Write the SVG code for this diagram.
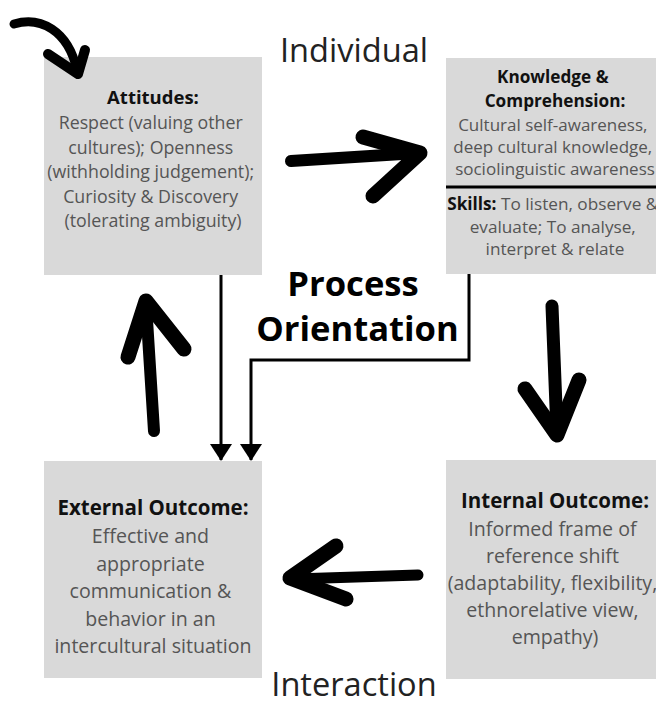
<svg xmlns="http://www.w3.org/2000/svg" width="656" height="702" viewBox="0 0 656 702">
  <style>
    .box { fill: #d9d9d9; }
    .head { font-family: "Open Sans", "Liberation Sans", sans-serif; font-weight: 700; fill: #111; text-anchor: middle; }
    .body { font-family: "Open Sans", "Liberation Sans", sans-serif; font-weight: 400; fill: #555; text-anchor: middle; }
    .axis { font-family: "Open Sans", "Liberation Sans", sans-serif; font-size: 32.6px; fill: #222; text-anchor: middle; }
    .center { font-family: "Open Sans", "Liberation Sans", sans-serif; font-weight: 700; font-size: 34.6px; fill: #000; text-anchor: middle; }
    .brush { fill: none; stroke: #000; stroke-linecap: round; stroke-linejoin: round; }
    .line { fill: none; stroke: #000; stroke-width: 3; }
  </style>
  <defs>
    <marker id="tri" viewBox="0 0 17 22" refX="16" refY="11" markerWidth="17" markerHeight="22" markerUnits="userSpaceOnUse" orient="auto">
      <path d="M0,0 L17,11 L0,22 Z" fill="#000"/>
    </marker>
  </defs>
  <rect width="656" height="702" fill="#fff"/>

  <text class="axis" x="354" y="62">Individual</text>
  <text class="axis" x="354" y="696">Interaction</text>

  <g id="attitudes">
    <rect class="box" x="44" y="57" width="218" height="218"/>
    <text class="head" x="153" y="104" font-size="18.5">Attitudes:</text>
    <text class="body" font-size="17.8">
      <tspan x="153" y="129">Respect (valuing other</tspan>
      <tspan x="153" y="153.5">cultures); Openness</tspan>
      <tspan x="153" y="178">(withholding judgement);</tspan>
      <tspan x="153" y="202.5">Curiosity &amp; Discovery</tspan>
      <tspan x="153" y="227">(tolerating ambiguity)</tspan>
    </text>
  </g>

  <g id="knowledge-skills">
    <rect class="box" x="446" y="58" width="210" height="216"/>
    <text class="head" font-size="17.2">
      <tspan x="555" y="83">Knowledge &amp;</tspan>
      <tspan x="555" y="107">Comprehension:</tspan>
    </text>
    <text class="body" font-size="17">
      <tspan x="555" y="131">Cultural self-awareness,</tspan>
      <tspan x="555" y="153">deep cultural knowledge,</tspan>
      <tspan x="555" y="174.5">sociolinguistic awareness</tspan>
    </text>
    <line x1="446" y1="187" x2="656" y2="187" stroke="#000" stroke-width="3"/>
    <text class="body" font-size="17.2">
      <tspan x="555" y="210"><tspan class="head">Skills:</tspan> To listen, observe &amp;</tspan>
      <tspan x="555" y="233">evaluate; To analyse,</tspan>
      <tspan x="555" y="255">interpret &amp; relate</tspan>
    </text>
  </g>

  <g id="external-outcome">
    <rect class="box" x="44" y="461" width="218" height="217"/>
    <text class="head" x="153" y="515" font-size="20.5">External Outcome:</text>
    <text class="body" font-size="19.6">
      <tspan x="153" y="543">Effective and</tspan>
      <tspan x="153" y="570.5">appropriate</tspan>
      <tspan x="153" y="598">communication &amp;</tspan>
      <tspan x="153" y="625.5">behavior in an</tspan>
      <tspan x="153" y="653">intercultural situation</tspan>
    </text>
  </g>

  <g id="internal-outcome">
    <rect class="box" x="446" y="460" width="210" height="219"/>
    <text class="head" x="555" y="508" font-size="20.5">Internal Outcome:</text>
    <text class="body" font-size="19.6">
      <tspan x="555" y="536">Informed frame of</tspan>
      <tspan x="555" y="563">reference shift</tspan>
      <tspan x="555" y="590">(adaptability, flexibility,</tspan>
      <tspan x="555" y="617">ethnorelative view,</tspan>
      <tspan x="555" y="644">empathy)</tspan>
    </text>
  </g>

  <g id="process-orientation">
    <text class="center" x="353" y="296">Process</text>
    <text class="center" x="357.5" y="341">Orientation</text>
  </g>

  <g id="connectors">
    <!-- process lines into the external outcome -->
    <path class="line" d="M221,275 V460" marker-end="url(#tri)"/>
    <path class="line" d="M469,274 V360 H251 V460" marker-end="url(#tri)"/>

    <!-- brush-stroke cycle arrows -->
    <g class="brush">
      <!-- entry arrow -->
      <path d="M14,24 C40,16 68,30 77,70" stroke-width="9"/>
      <path d="M48,54 L78,74 L85,50" stroke-width="10"/>
      <!-- attitudes to knowledge -->
      <path d="M291,161 L418,153" stroke-width="12"/>
      <path d="M363,137 L420,153 L373,196" stroke-width="15"/>
      <!-- knowledge to internal outcome -->
      <path d="M552,306 L557,432" stroke-width="13"/>
      <path d="M525,389 L557,435 L579,380" stroke-width="15"/>
      <!-- internal to external outcome -->
      <path d="M418,575 L294,579" stroke-width="11"/>
      <path d="M336,546 L290,578 L346,599" stroke-width="15"/>
      <!-- external outcome back to attitudes -->
      <path d="M154,431 L146,304" stroke-width="12"/>
      <path d="M128,357 L146,301 L184,349" stroke-width="15"/>
    </g>
  </g>
</svg>
